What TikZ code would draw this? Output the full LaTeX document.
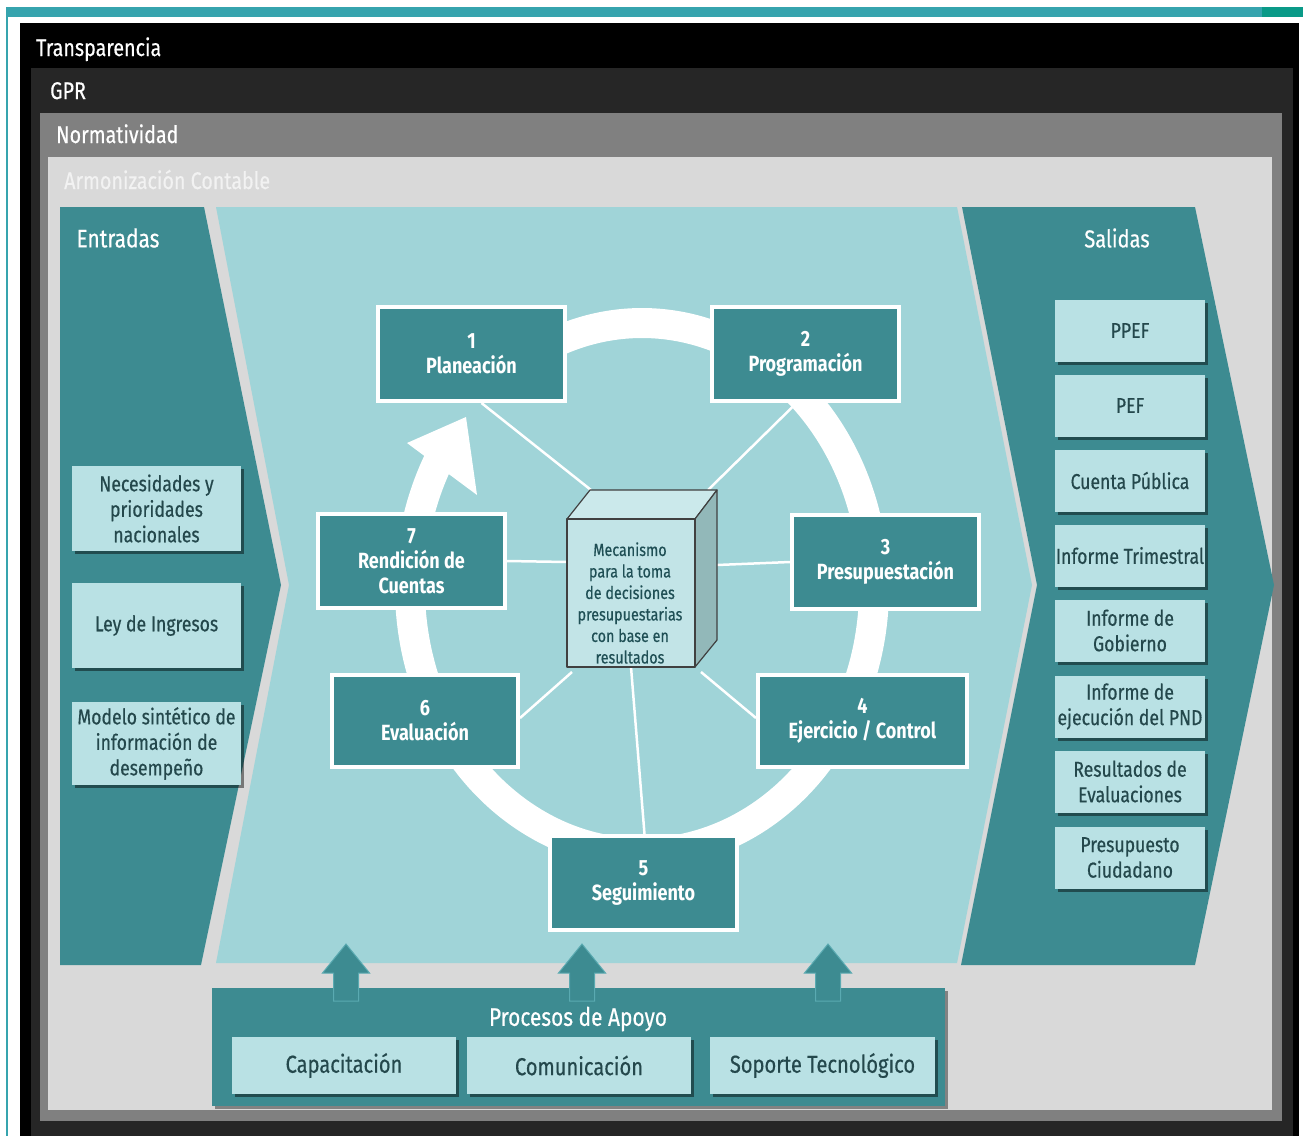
\documentclass[tikz,border=0pt]{standalone}
\usepackage{fontspec}
\setmainfont{Fira Sans}[FakeStretch=0.82]
\newfontfamily\medfont{Fira Sans}[FakeStretch=0.82, FakeBold=0.5]
\usetikzlibrary{shadows,calc}
\pgfdeclarelayer{back}
\pgfdeclarelayer{mid}
\pgfsetlayers{back,mid,main}
\definecolor{topbar}{HTML}{36A4AE}
\definecolor{topgreen}{HTML}{0A9A88}
\definecolor{gprgray}{HTML}{262626}
\definecolor{normgray}{HTML}{808080}
\definecolor{armgray}{HTML}{D9D9D9}
\definecolor{armtext}{HTML}{F2F2F2}
\definecolor{tealA}{HTML}{3D8B91}
\definecolor{tealEdge}{HTML}{5AAAB1}
\definecolor{lightC}{HTML}{A0D4D8}
\definecolor{lboxC}{HTML}{B9E1E4}
\definecolor{dtext}{HTML}{24484C}
\definecolor{cubeF}{HTML}{C2E4E7}
\definecolor{cubeT}{HTML}{CBE9EB}
\definecolor{cubeS}{HTML}{92B8B9}
\definecolor{cubeTxt}{HTML}{1F4F55}
\tikzset{
  hdr/.style={anchor=base west, inner sep=0, font=\medfont\fontsize{24}{26}\selectfont},
  proc/.style={draw=white, line width=4pt, fill=tealA, text=white, align=center,
    font=\bfseries\fontsize{22}{25}\selectfont, minimum width=187pt, minimum height=94pt, inner sep=0},
  lbox/.style={fill=lboxC, text=dtext, align=center, inner sep=0,
    font=\medfont\fontsize{21.5}{25.5}\selectfont,
    drop shadow={shadow xshift=3pt, shadow yshift=-3pt, opacity=0.45, fill=black}},
  obox/.style={lbox, minimum width=150pt, minimum height=62pt},
  ibox/.style={lbox, minimum width=169pt, minimum height=85pt},
  sbox/.style={lbox, minimum height=57pt, font=\medfont\fontsize{24.5}{26}\selectfont},
  spoke/.style={draw=white, line width=2.5pt},
  ring/.style={draw=white, line width=30pt},
  cubeface/.style={draw=black!75, line width=1.2pt, line join=round},
  uparrow/.style={fill=tealA, draw=tealEdge, line width=1pt, line join=miter}
}
\begin{document}
\begin{tikzpicture}[x=1pt,y=-1pt]
\useasboundingbox (0,0) rectangle (1303,1136);
\begin{pgfonlayer}{back}
\fill[white] (0,0) rectangle (1303,1136);
\fill[topbar] (6,7) rectangle (1262,17);
\fill[topgreen] (1262,7) rectangle (1303,17);
\fill[topbar] (6,17) rectangle (8,1136);
\fill[black] (20,23) rectangle (1299,1136);
\fill[gprgray] (31,68) rectangle (1293,1136);
\fill[normgray] (40,113) rectangle (1282,1121);
\fill[armgray] (48,157) rectangle (1272,1110);
\fill[tealA] (60,207) -- (204,207) -- (281,585) -- (201,965) -- (60,965) -- cycle;
\fill[lightC] (216,207) -- (957,207) -- (1032,585) -- (957,963) -- (216,963) -- (289,585) -- cycle;
\fill[tealA] (962,207) -- (1195,207) -- (1274,585) -- (1195,965) -- (961,965) -- (1037,585) -- cycle;
\end{pgfonlayer}
\node[hdr, text=white] (tTrans) at (36,56) {Transparencia};
\node[hdr, text=white] (tGPR) at (50,99) {GPR};
\node[hdr, text=white] (tNorm) at (56,143) {Normatividad};
\node[hdr, text=armtext] (tArm) at (64,189) {Armonización Contable};
\node[text=white, font=\medfont\fontsize{25.5}{28}\selectfont] (tEnt) at (118,238) {Entradas};
\node[text=white, font=\medfont\fontsize{24.5}{28}\selectfont] (tSal) at (1117,238) {Salidas};
% ring with arrow
\begin{pgfonlayer}{mid}
\draw[ring] (642,588) ++(-150:232 and 265) arc[start angle=-150, end angle=-480, x radius=232, y radius=265];
\fill[white] (466,417) -- (407,443) -- (477,495) -- cycle;
\end{pgfonlayer}
% cube corners and spoke ends
\coordinate (cA) at (567,519);
\coordinate (cB) at (695,519);
\coordinate (cC) at (695,667);
\coordinate (cD) at (567,667);
\coordinate (cE) at (590,490);
\coordinate (cF) at (717,490);
\coordinate (cG) at (717,640);
\coordinate (s1) at (591,490);
\coordinate (s2) at (708,490);
\coordinate (s3) at (717,565);
\coordinate (s4) at (701,672);
\coordinate (s5) at (631,667);
\coordinate (s6) at (572,672);
\coordinate (s7) at (567,562);
% process boxes
\node[proc] (p1) at (471.5,354) {1\\Planeación};
\node[proc] (p2) at (805.5,354) {2\\Programación};
\node[proc] (p3) at (885.5,562) {3\\Presupuestación};
\node[proc, minimum width=209pt, minimum height=92pt] (p4) at (862.5,721) {4\\Ejercicio / Control};
\node[proc] (p5) at (643.5,883) {5\\Seguimiento};
\node[proc, minimum width=186pt, minimum height=92pt] (p6) at (425,721) {6\\Evaluación};
\node[proc] (p7) at (411.5,561) {7\\Rendición de\\Cuentas};
% spokes (behind boxes and cube)
\begin{pgfonlayer}{mid}
\draw[spoke] (s1) -- ($(p1.south)+(10,0)$);
\draw[spoke] (s2) -- ($(p2.south)+(-9,0)$);
\draw[spoke] (s3) -- (p3.west);
\draw[spoke] (s4) -- ($(p4.west)+(0,-3)$);
\draw[spoke] (s5) -- ($(p5.north)+(1,0)$);
\draw[spoke] (s6) -- ($(p6.east)+(0,-3)$);
\draw[spoke] (s7) -- (p7.east);
\end{pgfonlayer}
% cube
\draw[cubeface, fill=cubeT] (cA) -- (cE) -- (cF) -- (cB) -- cycle;
\draw[cubeface, fill=cubeS] (cB) -- (cF) -- (cG) -- (cC) -- cycle;
\draw[cubeface, fill=cubeF] (cA) -- (cB) -- (cC) -- (cD) -- cycle;
\node[text=cubeTxt, align=center, inner sep=0, font=\medfont\fontsize{17.5}{21.5}\selectfont] (cube) at (630,603)
  {Mecanismo\\para la toma\\de decisiones\\presupuestarias\\con base en\\resultados};
% entradas
\node[ibox] (e1) at (156.5,508.5) {Necesidades y\\prioridades\\nacionales};
\node[ibox] (e2) at (156.5,625.5) {Ley de Ingresos};
\node[ibox, minimum height=83pt] (e3) at (156.5,743.5) {Modelo sintético de\\información de\\desempeño};
% salidas
\node[obox] (o1) at (1130,330.5) {PPEF};
\node[obox] (o2) at (1130,405.5) {PEF};
\node[obox] (o3) at (1130,480.5) {Cuenta Pública};
\node[obox] (o4) at (1130,555.5) {Informe Trimestral};
\node[obox] (o5) at (1130,630.5) {Informe de\\Gobierno};
\node[obox] (o6) at (1130,706.5) {Informe de\\ejecución del PND};
\node[obox] (o7) at (1130,781.5) {Resultados de\\Evaluaciones};
\node[obox] (o8) at (1130,857.5) {Presupuesto\\Ciudadano};
% procesos de apoyo
\node[fill=tealA, minimum width=733pt, minimum height=118pt, inner sep=0,
  drop shadow={shadow xshift=3pt, shadow yshift=-3pt, opacity=0.4, fill=black}] (apoyo) at (578.5,1047) {};
\node[text=white, font=\medfont\fontsize{25.5}{28}\selectfont] (tApoyo) at (578,1019) {Procesos de Apoyo};
\node[sbox, minimum width=224pt] (b1) at (344,1065.5) {Capacitación};
\node[sbox, minimum width=224pt] (b2) at (579,1065.5) {Comunicación};
\node[sbox, minimum width=225pt] (b3) at (822.5,1065.5) {Soporte Tecnológico};
\foreach \cx/\nm in {346/a1,582/a2,828/a3}{
  \coordinate (\nm) at (\cx,944);
  \draw[uparrow] (\nm) -- ++(23.5,29) -- ++(-11,0) -- ++(0,28) -- ++(-25,0) -- ++(0,-28) -- ++(-11,0) -- cycle;
}
\end{tikzpicture}
\end{document}
